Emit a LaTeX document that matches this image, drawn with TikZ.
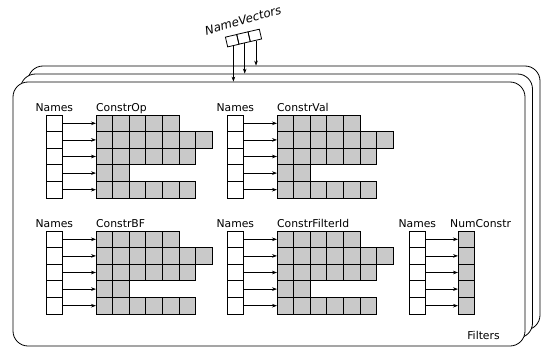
\documentclass[tikz,border=0pt]{standalone}
\usepackage{fontspec}
\setmainfont{DejaVu Sans}
\usetikzlibrary{arrows.meta}
\tikzset{
  celda/.style={draw, line width=0.8pt, minimum size=16.6pt, inner sep=0pt, outer sep=0pt, anchor=north west},
  nombre/.style={celda, fill=white},
  dato/.style={celda, fill=black!21},
  flecha/.style={-{Stealth[length=5pt,width=3.6pt]}, line width=0.7pt},
  capa/.style={draw, fill=white, rounded corners=15pt, line width=0.8pt, minimum width=512pt, minimum height=264pt, inner sep=0pt},
  etiq/.style={inner sep=0pt, font=\fontsize{10.8}{13}\selectfont},
  vcelda/.style={draw, line width=0.8pt, minimum width=11.6pt, minimum height=10pt, inner sep=0pt, rotate=13},
}
\begin{document}
\begin{tikzpicture}[x=1pt, y=-1pt]
    \useasboundingbox (0,0) rectangle (544,348);
    % Capas de filtros (de atras hacia adelante)
    \node[capa] (capa3) at (284,198) {};
    \node[capa] (capa2) at (276.5,206) {};
    \node[capa] (capa1) at (269,214) {};
    \node[etiq] (filtros) at (483.5,335.5) {Filters};
    % Vector de nombres
    \node[etiq, rotate=16, font=\fontsize{11.8}{14}\selectfont\itshape] (vtit) at (243,20.5) {NameVectors};
    \node[vcelda] (v1) at (232.2,40.7) {};
    \node[vcelda] (v2) at (243.5,38) {};
    \node[vcelda] (v3) at (254.8,35.4) {};
    \draw[flecha] (v1.south) -- (v1.south |- capa1.north);
    \draw[flecha] (v2.south) -- (v2.south |- capa2.north);
    \draw[flecha] (v3.south) -- (v3.south |- capa3.north);
    % Grupos con filas de 5, 7, 6, 2 y 6 celdas
    \foreach \gx/\gy/\lab/\id in {46/115/ConstrOp/a, 227/115/ConstrVal/b, 46/231/ConstrBF/c, 227/231/ConstrFilterId/d} {
        \node[etiq, anchor=base] (\id t) at ({\gx+8.3}, {\gy-4}) {Names};
        \node[etiq, anchor=base west] (\id l) at ({\gx+50}, {\gy-4}) {\lab};
        \foreach \r/\len in {1/5, 2/7, 3/6, 4/2, 5/6} {
            \node[nombre] (\id n\r) at (\gx, {\gy+(\r-1)*16.6}) {};
            \foreach \k in {1,...,\len}
                \node[dato] (\id g\r-\k) at ({\gx+50+(\k-1)*16.6}, {\gy+(\r-1)*16.6}) {};
            \draw[flecha] (\id n\r) -- (\id g\r-1);
        }
    }
    % Grupo de una sola columna
    \node[etiq, anchor=base] (et) at (417.3,227) {Names};
    \node[etiq, anchor=base west] (el) at (450,227) {NumConstr};
    \foreach \r in {1,...,5} {
        \node[nombre] (en\r) at (409, {231+(\r-1)*16.6}) {};
        \node[dato] (eg\r) at (458, {231+(\r-1)*16.6}) {};
        \draw[flecha] (en\r) -- (eg\r);
    }
\end{tikzpicture}
\end{document}
